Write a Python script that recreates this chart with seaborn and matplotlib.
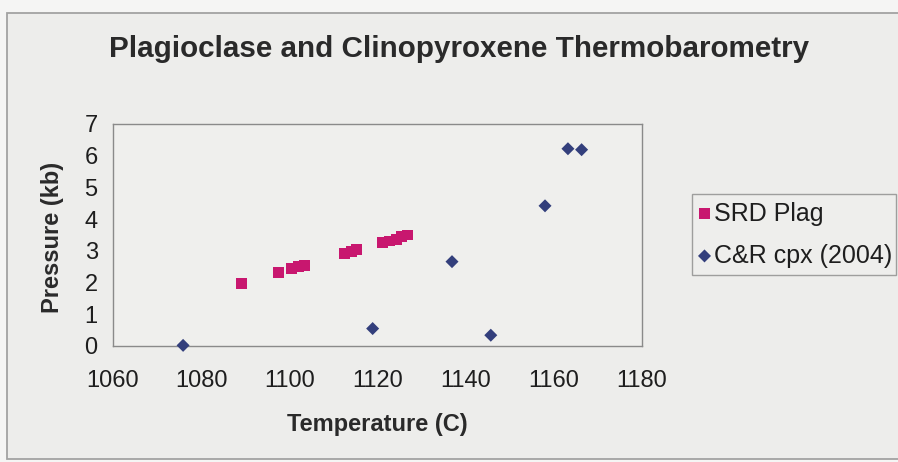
import matplotlib
matplotlib.use("Agg")
import matplotlib.pyplot as plt
import pandas as pd
import seaborn as sns
from matplotlib.patches import Rectangle

# Plagioclase-melt barometry (SRD Plag)
plag_temp = [1089.1, 1097.6, 1100.5, 1102.0, 1103.5, 1112.6, 1114.0,
             1115.3, 1121.2, 1122.8, 1124.3, 1125.5, 1126.9]
plag_press = [1.97, 2.32, 2.45, 2.50, 2.55, 2.93, 2.99,
              3.03, 3.25, 3.31, 3.37, 3.44, 3.50]

# Clinopyroxene barometry, C&R (2004)
cpx_temp = [1075.9, 1118.9, 1136.9, 1145.7, 1158.0, 1163.2, 1166.3]
cpx_press = [0.02, 0.55, 2.66, 0.34, 4.42, 6.22, 6.19]

series_names = ["SRD Plag", "C&R cpx (2004)"]
x_ticks = [1060, 1080, 1100, 1120, 1140, 1160, 1180]
y_ticks = [0, 1, 2, 3, 4, 5, 6, 7]

title = "Plagioclase and Clinopyroxene Thermobarometry"
x_label = "Temperature (C)"
y_label = "Pressure (kb)"

df = pd.concat([
    pd.DataFrame({"T": plag_temp, "P": plag_press, "series": series_names[0]}),
    pd.DataFrame({"T": cpx_temp, "P": cpx_press, "series": series_names[1]}),
], ignore_index=True)

sns.set_theme(style="white")
plt.rcParams["font.family"] = ["Liberation Sans", "DejaVu Sans"]

W, H = 898, 462
fig = plt.figure(figsize=(W / 100, H / 100), dpi=100, facecolor="#f5f5f4")

# chart area panel with its thin grey frame, kept behind the axes
panel = Rectangle((7 / W, 1 - 459 / H), (W + 5 - 7) / W, (459 - 13) / H,
                  transform=fig.transFigure, facecolor="#ededeb",
                  edgecolor="#a2a2a2", linewidth=1.3, zorder=-10)
fig.patches.append(panel)

ax = fig.add_axes([113 / W, 1 - 346 / H, (642 - 113) / W, (346 - 124) / H])
ax.set_zorder(1)
ax.set_facecolor("#efefed")

colors = {"SRD Plag": "#c8176f", "C&R cpx (2004)": "#333f7c"}
markers = {"SRD Plag": "s", "C&R cpx (2004)": "D"}
sizes = {"SRD Plag": 62, "C&R cpx (2004)": 44}

for name in series_names:
    sub = df[df["series"] == name]
    sns.scatterplot(data=sub, x="T", y="P", marker=markers[name], color=colors[name],
                    s=sizes[name], edgecolor="none", linewidth=0, ax=ax,
                    label=name, legend=False, zorder=3, clip_on=False)

ax.set_xlim(x_ticks[0], x_ticks[-1])
ax.set_ylim(y_ticks[0], y_ticks[-1])
ax.set_xticks(x_ticks)
ax.set_yticks(y_ticks)

for sp in ax.spines.values():
    sp.set_visible(True)
    sp.set_color("#8a8a8a")
    sp.set_linewidth(1.0)

ax.tick_params(axis="both", which="major", direction="out", length=5, width=1,
               color="#8a8a8a", labelsize=17, labelcolor="#1e1e1e")
ax.tick_params(axis="x", pad=12)
ax.tick_params(axis="y", pad=6)

ax.set_xlabel(x_label, fontsize=17, fontweight="bold", color="#2a2a2a")
ax.set_ylabel(y_label, fontsize=17, fontweight="bold", color="#2a2a2a")
ax.xaxis.label.set_va("center")
ax.yaxis.label.set_va("center")
ax.xaxis.set_label_coords(0.5, (346 - 424) / (346 - 124))
ax.yaxis.set_label_coords((53 - 113) / (642 - 113), (346 - 237) / (346 - 124))

fig.text(459 / W, 1 - 49 / H, title, ha="center", va="center",
         fontsize=21.3, fontweight="bold", color="#2a2a2a")

handles, labels = ax.get_legend_handles_labels()
leg = fig.legend(handles, labels, loc="upper left",
                 bbox_to_anchor=(692 / W, 1 - 269 / H, 204 / W, 75 / H),
                 bbox_transform=fig.transFigure, mode="expand",
                 frameon=True, fancybox=False, fontsize=18, borderaxespad=0,
                 handlelength=0.4, handletextpad=0.2, labelspacing=0.72,
                 borderpad=0.3, markerscale=1.0)
frame = leg.get_frame()
frame.set_edgecolor("#8a8a8a")
frame.set_facecolor("#efefed")
frame.set_linewidth(1.0)
for t in leg.get_texts():
    t.set_color("#1e1e1e")

fig.savefig("out.png", dpi=100, facecolor=fig.get_facecolor())
